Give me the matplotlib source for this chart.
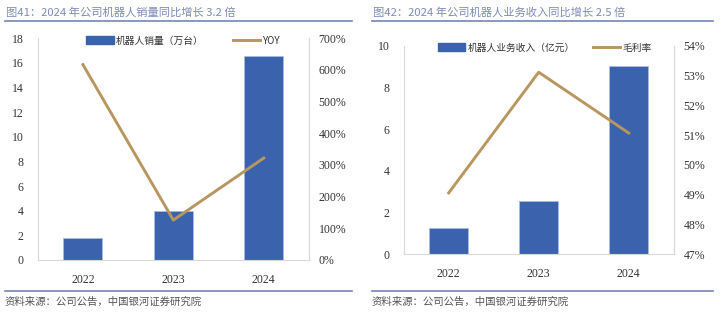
import matplotlib
matplotlib.use("Agg")
import matplotlib.pyplot as plt
from matplotlib.ticker import FuncFormatter
from matplotlib.lines import Line2D

plt.rcParams['font.family'] = ['Noto Sans CJK SC', 'DejaVu Sans']

years = ["2022", "2023", "2024"]
sales = [1.76, 3.95, 16.54]          # 机器人销量（万台）
yoy = [6.17, 1.26, 3.22]             # YOY
revenue = [1.25, 2.57, 9.01]         # 机器人业务收入（亿元）
margin = [0.4906, 0.5311, 0.5107]    # 毛利率

title1 = "图41：2024 年公司机器人销量同比增长 3.2 倍"
title2 = "图42：2024 年公司机器人业务收入同比增长 2.5 倍"
source = "资料来源：公司公告，中国银河证券研究院"

BAR = "#3b63ad"
LINE = "#b89660"
TITLE = "#7d8bb5"
RULE = "#7585b8"
SPINE = "#d9d9d9"
TICK = "#333333"
serif = "Liberation Serif"

W, H = 722, 323
fig = plt.figure(figsize=(W / 100, H / 100), dpi=100)


def fx(x):
    return x / W


def fy(y):
    return 1 - y / H


def make_panel(rect, vals, line_vals, ylim, yticks, y2lim, y2ticks, y2fmt, lab1, lab2,
               legend_x, legend_y, colspace):
    ax = fig.add_axes(rect)
    x = range(len(years))
    ax.bar(x, vals, width=0.43, color=BAR, edgecolor="#a9bde3", linewidth=0.6, zorder=2)
    ax.set_xlim(-0.5, len(years) - 0.5)
    ax.set_ylim(*ylim)
    ax.set_yticks(yticks)
    ax.set_xticks(list(x))
    ax.set_xticklabels(years)
    ax.spines["top"].set_visible(False)
    for s in ["left", "bottom", "right"]:
        ax.spines[s].set_color(SPINE)
        ax.spines[s].set_linewidth(0.8)
    ax.tick_params(length=0, labelsize=8.5, colors=TICK)
    ax.tick_params(axis="x", pad=10)
    ax.tick_params(axis="y", pad=10)
    for t in ax.get_xticklabels() + ax.get_yticklabels():
        t.set_fontfamily(serif)
    ax2 = ax.twinx()
    ax2.plot(list(x), line_vals, color=LINE, linewidth=2.1, zorder=3)
    ax2.set_ylim(*y2lim)
    ax2.set_yticks(y2ticks)
    ax2.yaxis.set_major_formatter(FuncFormatter(y2fmt))
    for s in ["top", "left", "bottom"]:
        ax2.spines[s].set_visible(False)
    ax2.spines["right"].set_color(SPINE)
    ax2.spines["right"].set_linewidth(0.8)
    ax2.tick_params(length=0, labelsize=8.5, colors=TICK, pad=7)
    for t in ax2.get_yticklabels():
        t.set_fontfamily(serif)
    handles = [plt.Rectangle((0, 0), 1, 1, color=BAR),
               Line2D([0], [0], color=LINE, linewidth=2.1)]
    leg = ax.legend(handles, [lab1, lab2], loc="center", bbox_to_anchor=(legend_x, legend_y),
                    ncol=2, frameon=False, fontsize=7, handlelength=2.8, handleheight=0.9,
                    handletextpad=0.2, columnspacing=colspace, labelcolor=TICK)
    leg.set_zorder(5)
    return ax, ax2


# left panel
make_panel([fx(37.7), fy(260), fx(309 - 37.7), (260 - 38.3) / H],
           sales, yoy, (0, 18), range(0, 19, 2), (0, 7), [i for i in range(8)],
           lambda v, p: f"{v*100:.0f}%", "机器人销量（万台）", "YOY", 0.535, 0.99, 3.0)

# right panel
make_panel([fx(403.7), fy(254.3), fx(673.7 - 403.7), (254.3 - 45.7) / H],
           revenue, margin, (0, 10), range(0, 11, 2), (0.47, 0.54),
           [0.47 + 0.01 * i for i in range(8)],
           lambda v, p: f"{v*100:.0f}%", "机器人业务收入（亿元）", "毛利率", 0.523, 0.99, 1.9)

# titles and rules
fig.text(fx(6), fy(12), title1, fontsize=8.1, color=TITLE, va="center", ha="left")
fig.text(fx(373), fy(12), title2, fontsize=8.1, color=TITLE, va="center", ha="left")
for x0, x1 in [(5, 352), (372, 713)]:
    fig.add_artist(Line2D([fx(x0), fx(x1)], [fy(21), fy(21)], color=RULE, linewidth=1.2))
    fig.add_artist(Line2D([fx(x0), fx(x1)], [fy(291), fy(291)], color=RULE, linewidth=1.2))

fig.text(fx(5), fy(302), source, fontsize=7.5, color="#555555", va="center", ha="left", style="italic")
fig.text(fx(372), fy(302), source, fontsize=7.5, color="#555555", va="center", ha="left", style="italic")

fig.savefig("out.png", dpi=100)
